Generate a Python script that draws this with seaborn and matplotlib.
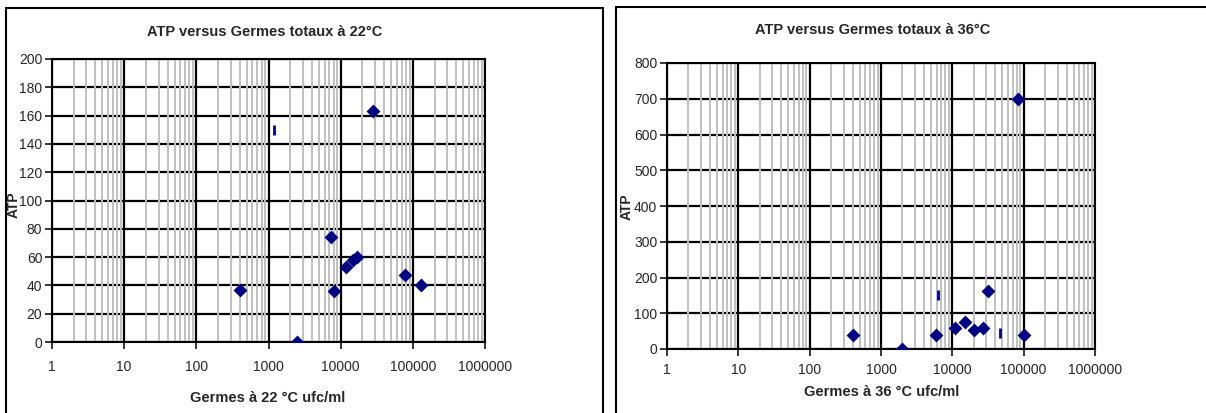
import numpy as np
import pandas as pd
import seaborn as sns
import matplotlib.pyplot as plt
from matplotlib.patches import Rectangle
from matplotlib.ticker import FixedLocator, LogLocator, NullFormatter

# data
germes_22 = [400, 2450, 7250, 8000, 12000, 14800, 16600, 28500, 79000, 129000]
atp_22 = [37, 0, 74, 36, 53, 58, 60, 163, 47, 40]
germes_22_b = [1210]
atp_22_b = [150]

germes_36 = [403, 1960, 5900, 10900, 14900, 19900, 26500, 31500, 82000, 100000]
atp_36 = [38, 0, 38, 59, 75, 54, 59, 161, 698, 38]
germes_36_b = [6250, 46500]
atp_36_b = [152, 45]

xticks = [1, 10, 100, 1000, 10000, 100000, 1000000]
xticklabels = ['1', '10', '100', '1000', '10000', '100000', '1000000']

sns.set_style("white")
plt.rcParams['font.family'] = ['Liberation Sans', 'DejaVu Sans']

fig = plt.figure(figsize=(12.06, 4.13), dpi=100)
W, H = 1206, 413
navy = '#000080'

# outer chart borders
fig.patches.append(Rectangle((6 / W, -0.1), 597 / W, 1.1 - 8 / H, transform=fig.transFigure,
                             fill=False, edgecolor='black', linewidth=1.5))
fig.patches.append(Rectangle((616 / W, -0.1), 600 / W, 1.1 - 7 / H, transform=fig.transFigure,
                             fill=False, edgecolor='black', linewidth=1.5))


def make_panel(rect, xs, ys, xs2, ys2, ymax, ystep, title, xlabel, tpos, xlpos, ylpos, pad):
    ax = fig.add_axes(rect)
    df = pd.DataFrame({'x': xs, 'y': ys})
    df2 = pd.DataFrame({'x': xs2, 'y': ys2})
    ax.set_xscale('log')
    sns.scatterplot(data=df, x='x', y='y', marker='D', s=50, color=navy, edgecolor=navy,
                    linewidth=0, ax=ax, zorder=5)
    sns.scatterplot(data=df2, x='x', y='y', marker='|', s=60, color=navy, linewidth=2,
                    ax=ax, zorder=5)
    ax.set_xlim(1, 1e6)
    ax.set_ylim(0, ymax)
    yt = np.arange(0, ymax + 1, ystep)
    ax.set_yticks(yt)
    ax.xaxis.set_major_locator(FixedLocator(xticks))
    ax.set_xticklabels(xticklabels)
    ax.xaxis.set_minor_locator(LogLocator(base=10, subs=np.arange(2, 10), numticks=20))
    ax.xaxis.set_minor_formatter(NullFormatter())
    # horizontal lines sit under the grey minor verticals, like the original
    for v in yt:
        ax.axhline(v, color='black', linewidth=1.6, zorder=0.2)
    ax.grid(True, which='major', axis='x', color='black', linewidth=1.6)
    ax.grid(True, which='minor', axis='x', color='#c0c0c0', linewidth=1.4)
    ax.set_axisbelow(True)
    ax.tick_params(axis='x', which='major', direction='out', length=5, width=1.3,
                   bottom=True, labelsize=10, pad=pad)
    ax.tick_params(axis='x', which='minor', bottom=False)
    ax.tick_params(axis='y', direction='out', length=5, width=1.3, left=True,
                   labelsize=10, pad=2)
    for s in ax.spines.values():
        s.set_color('black')
        s.set_linewidth(1.5)
    ax.set_xlabel('')
    ax.set_ylabel('')
    fig.text(tpos[0] / W, 1 - tpos[1] / H, title, ha='center', va='center',
             fontsize=10.5, fontweight='bold')
    fig.text(xlpos[0] / W, 1 - xlpos[1] / H, xlabel, ha='center', va='center',
             fontsize=10.5, fontweight='bold')
    fig.text(ylpos[0] / W, 1 - ylpos[1] / H, 'ATP', ha='center', va='center',
             fontsize=10, fontweight='bold', rotation=90)
    return ax


make_panel([52 / W, 1 - 342 / H, 433 / W, 283 / H], germes_22, atp_22, germes_22_b, atp_22_b,
           200, 20, 'ATP versus Germes totaux à 22°C', 'Germes à 22 °C ufc/ml',
           (265, 32), (268, 398), (14, 205), 8)
make_panel([667 / W, 1 - 349 / H, 428 / W, 286 / H], germes_36, atp_36, germes_36_b, atp_36_b,
           800, 100, 'ATP versus Germes totaux à 36°C', 'Germes à 36 °C ufc/ml',
           (873, 30), (882, 392), (627, 207), 5)

fig.savefig('out.png', dpi=100)
